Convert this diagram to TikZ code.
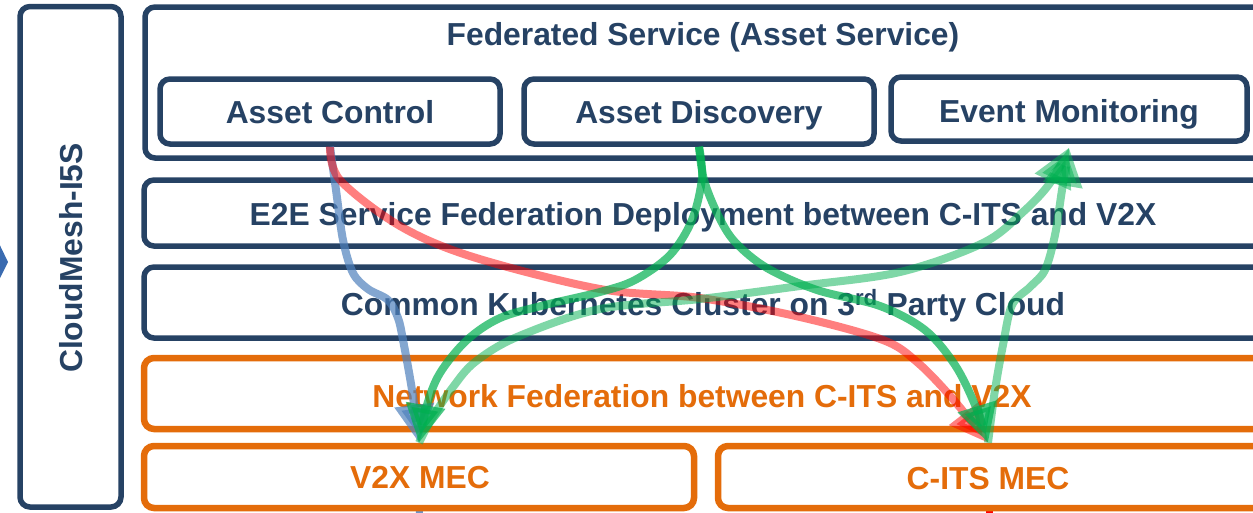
\documentclass[tikz,border=0pt]{standalone}
\usepackage{fontspec}
\setmainfont{Liberation Sans}
\usetikzlibrary{arrows.meta}
\definecolor{navy}{HTML}{264264}
\definecolor{orng}{HTML}{E46C0A}
\definecolor{lblue}{HTML}{4F81BD}
\definecolor{grn}{HTML}{00B050}
\definecolor{chev}{HTML}{3A6BB0}
\begin{document}
\begin{tikzpicture}[x=1pt,y=-1pt,
  nbox/.style={draw=navy, line width=5.5pt, rounded corners=10pt, fill=white, inner sep=0pt},
  obox/.style={draw=orng, line width=6.5pt, rounded corners=10pt, fill=white, inner sep=0pt},
  ntxt/.style={text=navy, font=\fontsize{31.8}{36}\selectfont\bfseries, anchor=base, inner sep=0pt},
  otxt/.style={ntxt, text=orng},
  flow/.style={line width=8pt, opacity=#1, line cap=butt, -{Triangle[length=38pt,width=38pt]}},
]
\useasboundingbox (0,0) rectangle (1253,512);
\clip (0,0) rectangle (1253,512);

% left chevron fragment
\fill[chev] (-6,233) -- (8,262) -- (-6,290) -- cycle;

% stubs below the MEC boxes
\coordinate (bstub) at (420,530);
\coordinate (rstub) at (989,530);

% boxes
\node[nbox, minimum width=101pt, minimum height=500.5pt] (cm) at (70.5,256.75) {};
\node[nbox, minimum width=1119pt, minimum height=151pt] (fs) at (704.5,82.5) {};
\node[nbox, minimum width=340pt, minimum height=65pt] (ac) at (330,111.5) {};
\node[nbox, minimum width=350pt, minimum height=65pt] (ad) at (699,111.5) {};
\node[nbox, minimum width=356pt, minimum height=64pt] (em) at (1069,109) {};
\node[nbox, minimum width=1120pt, minimum height=66pt] (e2e) at (704,213) {};
\node[nbox, minimum width=1120pt, minimum height=71pt] (kub) at (704,302.5) {};
\node[obox, minimum width=1120pt, minimum height=71pt] (nf) at (704,393.5) {};

\draw[lblue, line width=7pt, opacity=0.85] (419,500) -- (bstub);
\draw[red, line width=7pt] (989,500) -- (rstub);

\node[obox, minimum width=550pt, minimum height=62pt] (v2x) at (419,477) {};
\node[obox, minimum width=546pt, minimum height=62pt] (cits) at (991,477) {};

% texts
\node[ntxt] (tfs) at (703,45) {Federated Service (Asset Service)};
\node[ntxt] (tac) at (330,123) {Asset Control};
\node[ntxt] (tad) at (699,123) {Asset Discovery};
\node[ntxt] (tem) at (1069,122) {Event Monitoring};
\node[ntxt] (te2e) at (703,225) {E2E Service Federation Deployment between C-ITS and V2X};
\node[ntxt] (tkub) at (703,315) {Common Kubernetes Cluster on 3\textsuperscript{rd} Party Cloud};
\node[otxt] (tnf) at (702,407) {Network Federation between C-ITS and V2X};
\node[otxt] (tv2x) at (420,488) {V2X MEC};
\node[otxt] (tcits) at (988,489) {C-ITS MEC};
\node[ntxt, rotate=90] (tcm) at (82,258) {CloudMesh-I5S};

% flows
\draw[flow=0.7, lblue] plot[smooth, tension=0.55] coordinates {(ac.south) (336,190) (343,240) (353,273) (368,289) (388,300) (398,318) (403,340) (412,390) (v2x.north)};
\draw[flow=0.5, red] plot[smooth, tension=0.55] coordinates {(ac.south) (340,180) (400,226) (473,257) (600,289) (700,298) (800,317) (883,340) (917,362) (952,398) ([xshift=-3pt]cits.north)};
\draw[flow=0.7, grn] plot[smooth, tension=0.55] coordinates {(ad.south) (702,178) (692,220) (670,255) (635,280) (600,292) (545,305) (500,318) (467,340) (440,373) (427,405) (v2x.north)};
\draw[flow=0.7, grn] plot[smooth, tension=0.55] coordinates {(ad.south) (704,180) (718,215) (735,242) (767,268) (817,290) (880,306) (925,330) (955,365) (975,405) ([xshift=-3pt]cits.north)};
\draw[flow=0.5, grn] plot[smooth, tension=0.55] coordinates {(v2x.north) (432,418) (453,387) (475,362) (517,337) (600,309) (700,299) (800,286) (900,272) (983,243) (1023,212) (1050,183) ([yshift=-4pt]em.south)};
\draw[flow=0.5, grn] plot[smooth, tension=0.55] coordinates {([xshift=-3pt]cits.north) (995,390) (1003,345) (1012,305) (1030,287) (1045,270) (1055,235) (1062,190) ([yshift=-4pt]em.south)};
\end{tikzpicture}
\end{document}
